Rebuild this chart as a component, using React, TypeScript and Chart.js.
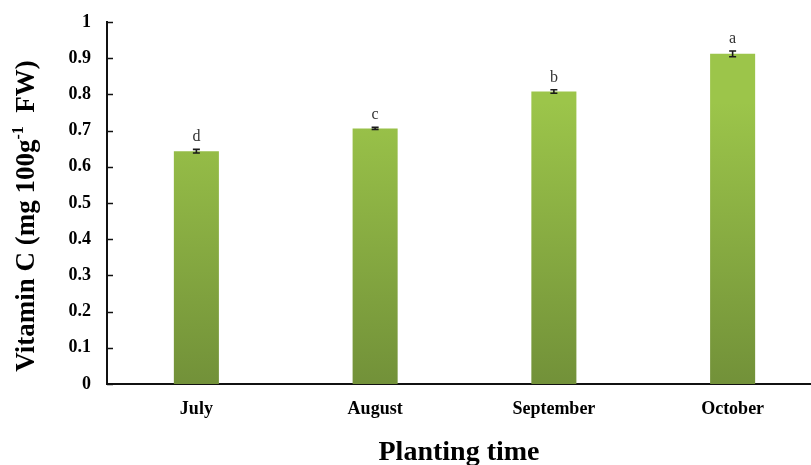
import React, { useEffect, useRef } from "react";
import { Chart, registerables } from "chart.js";

Chart.register(...registerables);

const months = ["July", "August", "September", "October"];
const vitaminC = [0.643, 0.706, 0.808, 0.912];
const stdError = [0.005, 0.003, 0.005, 0.008];
const groupLetters = ["d", "c", "b", "a"];
const yTicks = [0, 0.1, 0.2, 0.3, 0.4, 0.5, 0.6, 0.7, 0.8, 0.9, 1];

const SERIF = "'Times New Roman', 'Liberation Serif', serif";

const W = 830;
const H = 465;

// Short tick marks on the inner side of the value axis
const innerTicks = {
  id: "innerTicks",
  afterDraw(chart: any) {
    const { ctx, scales } = chart;
    const y = scales.y;
    ctx.save();
    ctx.strokeStyle = "#111";
    ctx.lineWidth = 1.5;
    yTicks.forEach((v) => {
      const py = Math.round(y.getPixelForValue(v)) + 0.5;
      ctx.beginPath();
      ctx.moveTo(y.right, py);
      ctx.lineTo(y.right + 6, py);
      ctx.stroke();
    });
    ctx.restore();
  },
};

// Error bars with significance letters above each bar
const errorBars = {
  id: "errorBars",
  afterDatasetsDraw(chart: any) {
    const { ctx, scales } = chart;
    const y = scales.y;
    const meta = chart.getDatasetMeta(0);
    ctx.save();
    meta.data.forEach((bar: any, i: number) => {
      const x = bar.x;
      const hi = y.getPixelForValue(vitaminC[i] + stdError[i]);
      const lo = y.getPixelForValue(vitaminC[i] - stdError[i]);
      ctx.strokeStyle = "#1a1a1a";
      ctx.lineWidth = 1.6;
      ctx.beginPath();
      ctx.moveTo(x, hi);
      ctx.lineTo(x, lo);
      ctx.moveTo(x - 3.5, hi);
      ctx.lineTo(x + 3.5, hi);
      ctx.moveTo(x - 3.5, lo);
      ctx.lineTo(x + 3.5, lo);
      ctx.stroke();
      ctx.fillStyle = "#333";
      ctx.font = `16px ${SERIF}`;
      ctx.textAlign = "center";
      ctx.textBaseline = "alphabetic";
      ctx.fillText(groupLetters[i], x, hi - 8);
    });
    ctx.restore();
  },
};

// Axis titles, the vertical one carrying a superscript unit exponent
const axisTitles = {
  id: "axisTitles",
  afterDraw(chart: any) {
    const { ctx } = chart;
    ctx.save();
    ctx.fillStyle = "#000";
    ctx.textBaseline = "alphabetic";

    // x title
    ctx.font = `bold 28px ${SERIF}`;
    ctx.textAlign = "center";
    ctx.fillText("Planting time", 459, 460);

    // y title
    const main = `bold 27px ${SERIF}`;
    const sup = `bold 16px ${SERIF}`;
    const parts = [
      { t: "Vitamin C (mg 100g", f: main, dy: 0 },
      { t: "-1", f: sup, dy: -11 },
      { t: "  FW)", f: main, dy: 0 },
    ];
    let total = 0;
    parts.forEach((p) => {
      ctx.font = p.f;
      total += ctx.measureText(p.t).width;
    });
    ctx.translate(34, 216);
    ctx.rotate(-Math.PI / 2);
    ctx.textAlign = "left";
    let cx = -total / 2;
    parts.forEach((p) => {
      ctx.font = p.f;
      ctx.fillText(p.t, cx, p.dy);
      cx += ctx.measureText(p.t).width;
    });
    ctx.restore();
  },
};

export default function App() {
  const ref = useRef<HTMLCanvasElement | null>(null);

  useEffect(() => {
    const canvas = ref.current;
    if (!canvas) return;
    const chart = new Chart(canvas, {
      type: "bar",
      data: {
        labels: months,
        datasets: [
          {
            data: vitaminC,
            backgroundColor: (c: any) => {
              const area = c.chart.chartArea;
              if (!area) return "#8db443";
              const g = c.chart.ctx.createLinearGradient(0, area.top + 80, 0, area.bottom);
              g.addColorStop(0, "#9cc54a");
              g.addColorStop(1, "#729139");
              return g;
            },
            borderWidth: 0,
            barPercentage: 0.252,
            categoryPercentage: 1,
          },
        ],
      },
      options: {
        animation: false,
        responsive: false,
        devicePixelRatio: 1,
        layout: { padding: { top: 22, right: 8, left: 0, bottom: 0 } },
        plugins: {
          legend: { display: false },
          tooltip: { enabled: false },
        },
        scales: {
          x: {
            grid: { display: false, drawTicks: false },
            border: { display: true, color: "#111", width: 2 },
            ticks: {
              color: "#000",
              padding: 15,
              font: { family: SERIF, size: 18, weight: "bold" },
            },
            afterFit: (s: any) => {
              s.height = 81;
            },
          },
          y: {
            min: 0,
            max: 1,
            grid: { display: false, drawTicks: false },
            border: { display: true, color: "#111", width: 2 },
            afterBuildTicks: (s: any) => {
              s.ticks = yTicks.map((v) => ({ value: v }));
            },
            ticks: {
              color: "#000",
              padding: 16,
              font: { family: SERIF, size: 18, weight: "bold" },
              callback: (v: any) => String(Math.round(Number(v) * 10) / 10),
            },
            afterFit: (s: any) => {
              s.width = 107;
              s.paddingTop = 0;
              s.paddingBottom = 0;
            },
          },
        },
      },
      plugins: [innerTicks, errorBars, axisTitles],
    });
    return () => chart.destroy();
  }, []);

  return (
    <div
      style={{
        position: "absolute",
        left: 0,
        top: 0,
        width: 811,
        height: 465,
        overflow: "hidden",
        background: "#fff",
      }}
    >
      <canvas ref={ref} width={W} height={H} style={{ display: "block", width: W, height: H }} />
    </div>
  );
}
